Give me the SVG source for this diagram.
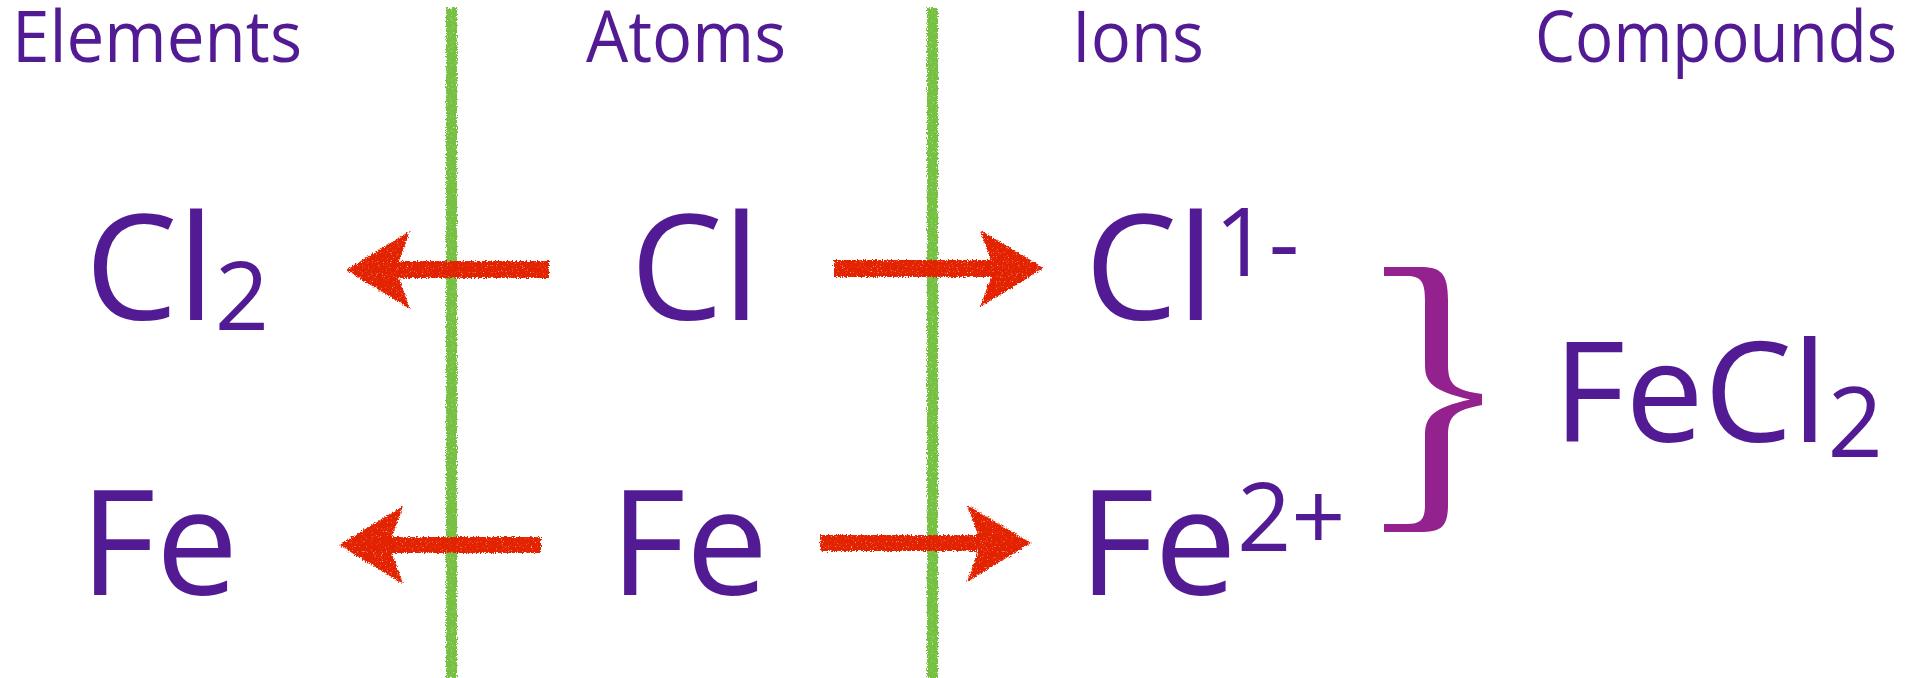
<svg xmlns="http://www.w3.org/2000/svg" width="1915" height="678" viewBox="0 0 1915 678">
<style>
  .t { font-family: "Open Sans", "Noto Sans", sans-serif; fill: #521b93; }
  .h { font-size: 71px; text-anchor: middle; }
  .m { font-size: 147px; text-anchor: middle; }
  .big { font-size: 140px; text-anchor: middle; }
  .arrow { fill: #e32400; }
  .div { fill: #76c043; }
  .brace { fill: #93228f; }
</style>
<defs>
  <filter id="chalk" filterUnits="userSpaceOnUse" x="0" y="0" width="1915" height="678">
    <feTurbulence type="fractalNoise" baseFrequency="0.8" numOctaves="2" seed="4" result="n"/>
    <feDisplacementMap in="SourceGraphic" in2="n" scale="5" xChannelSelector="R" yChannelSelector="G" result="d"/>
    <feColorMatrix in="n" type="matrix" values="0 0 0 0 0  0 0 0 0 0  0 0 0 0 0  0 0 0 -3 2.9" result="mask"/>
    <feComposite in="d" in2="mask" operator="in"/>
  </filter>
</defs>

<g id="dividers" filter="url(#chalk)">
  <rect class="div" x="446" y="8" width="11" height="670"/>
  <rect class="div" x="927" y="8" width="11" height="670"/>
</g>

<g id="header-elements"><text class="t h" x="157" y="62" textLength="290" lengthAdjust="spacingAndGlyphs">Elements</text></g>
<g id="header-atoms"><text class="t h" x="686" y="62" textLength="200" lengthAdjust="spacingAndGlyphs">Atoms</text></g>
<g id="header-ions"><text class="t h" x="1138" y="62" textLength="132" lengthAdjust="spacingAndGlyphs">Ions</text></g>
<g id="header-compounds"><text class="t h" x="1716" y="62" textLength="362" lengthAdjust="spacingAndGlyphs">Compounds</text></g>

<g id="node-cl2"><text class="t m" x="177" y="320">Cl<tspan font-size="95" dy="10">2</tspan></text></g>
<g id="node-cl"><text class="t m" x="695" y="320">Cl</text></g>
<g id="node-cl-ion"><text class="t m" x="1192" y="320">Cl<tspan font-size="95" dy="-44">1-</tspan></text></g>

<g id="node-fe-element"><text class="t m" x="159" y="595">Fe</text></g>
<g id="node-fe-atom"><text class="t m" x="689" y="595">Fe</text></g>
<g id="node-fe-ion"><text class="t m" x="1212" y="595">Fe<tspan font-size="95" dy="-44">2+</tspan></text></g>

<g id="brace">
  <path class="brace" d="M1384,267 L1420,267 C1440,267 1448,272 1448,300 L1448,365 C1448,386 1456,390 1482,394 L1482,405 C1456,410 1448,415 1448,436 L1448,505 C1448,528 1440,532 1420,532 L1384,532 L1384,524 L1407,524 C1421,524 1425,519 1425,505 L1425,436 C1425,416 1433,408 1470,399.5 C1433,391 1425,383 1425,365 L1425,300 C1425,282 1421,276 1407,276 L1384,276 Z"/>
</g>

<g id="node-fecl2"><text class="t big" x="1718" y="442">FeCl<tspan font-size="97" dy="15">2</tspan></text></g>

<g id="connectors" filter="url(#chalk)">
  <path class="arrow" d="M346,270 L410,231 L399,261 L549,261 L549,278 L399,278 L410,309 Z"/>
  <path class="arrow" d="M1044,268 L980,230 L991,260 L834,260 L834,277 L991,277 L980,307 Z"/>
  <path class="arrow" d="M339,545 L403,506 L392,537 L541,537 L541,553 L392,553 L403,584 Z"/>
  <path class="arrow" d="M1031,543 L967,505 L978,535 L820,535 L820,551 L978,551 L967,582 Z"/>
</g>
</svg>
